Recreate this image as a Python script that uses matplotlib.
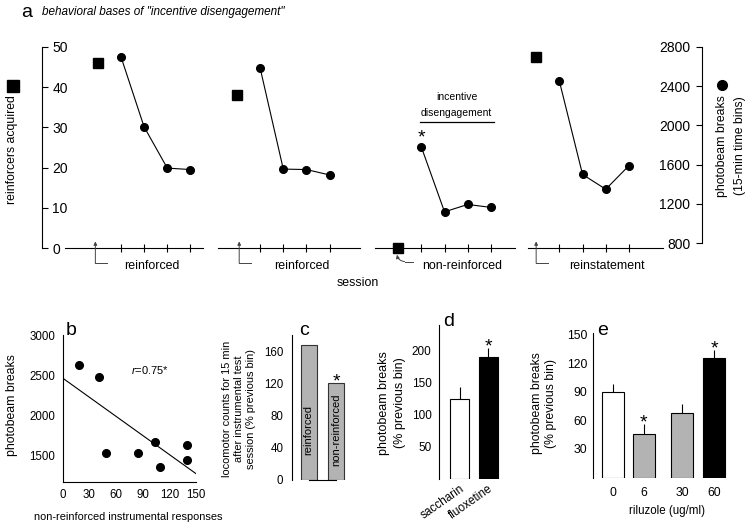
import numpy as np
import matplotlib
matplotlib.use('Agg')
import matplotlib.pyplot as plt
from matplotlib.lines import Line2D

plt.rcParams['font.family'] = ['Liberation Sans', 'DejaVu Sans']
plt.rcParams['mathtext.fontset'] = 'custom'
plt.rcParams['mathtext.it'] = 'Liberation Sans:italic'
plt.rcParams['mathtext.rm'] = 'Liberation Sans'

W, H = 751, 530

# ---------------- data ----------------
session_labels = ['reinforced', 'reinforced', 'non-reinforced', 'reinstatement']
reinforcers = [46, 38, 0, 47.4]                      # squares (left axis)
photobeam_bins = [                                   # circles (right axis)
    [2700, 1985, 1565, 1550],
    [2585, 1555, 1550, 1495],
    [1780, 1120, 1195, 1165],
    [2450, 1500, 1350, 1590],
]
scatter_x = [18.4, 41.2, 48.4, 84.4, 103.9, 109.5, 140.2, 139.5]
scatter_y = [2623, 2482, 1530, 1538, 1675, 1364, 1634, 1447]
c_labels = ['reinforced', 'non-reinforced']
c_values = [167, 120]
d_labels = ['saccharin', 'fluoxetine']
d_means = [124, 190]
d_err = [19, 14]
e_labels = ['0', '6', '30', '60']
e_means = [90, 46, 67.5, 126]
e_err = [8, 10.5, 9.5, 8.5]

# ---------------- layout ----------------
fig = plt.figure(figsize=(W / 100, H / 100), dpi=100)


def px_axes(l, t, r, b):
    return fig.add_axes([l / W, 1 - b / H, (r - l) / W, (b - t) / H])


def ftext(x, y, s, **kw):
    return fig.text(x / W, 1 - y / H, s, **kw)


# ======== panel a ========
ax = px_axes(42, 46.7, 702, 248.3)
ax.set_xlim(0, 660 / 23.2)
ax.set_ylim(0, 50)
for s in ['top', 'right', 'bottom']:
    ax.spines[s].set_visible(False)
ax.spines['left'].set_bounds(0, 50)
ax.spines['left'].set_linewidth(0.8)
ax.set_xticks([])
ax.set_yticks(np.arange(0, 51, 10))
ax.tick_params(axis='y', direction='in', length=4, width=0.8, pad=-7.5, labelsize=10)
for lab in ax.get_yticklabels():
    lab.set_horizontalalignment('left')

ax2 = ax.twinx()
ax2.set_ylim(749, 2800)
for s in ['top', 'left', 'bottom']:
    ax2.spines[s].set_visible(False)
ax2.spines['right'].set_bounds(800, 2800)
ax2.spines['right'].set_linewidth(0.8)
ax2.set_yticks(np.arange(800, 2801, 400))
ax2.tick_params(axis='y', direction='in', length=4, width=0.8, pad=-8.5, labelsize=10)
for lab in ax2.get_yticklabels():
    lab.set_horizontalalignment('right')

offsets = [2.4, 8.4, 15.35, 21.3]
seg_span = [(-1.41, 4.54), (-0.81, 5.31), (-1.0, 5.04), (-0.35, 5.47)]
label_dx = [2.33, 2.79, 2.74, 3.05]
arrow_dx = [-0.1, 0.1, None, 0.0]
acol = '#444444'

for i, o in enumerate(offsets):
    s0, s1 = seg_span[i]
    ax.plot([o + s0, o + s1], [0, 0], color='k', lw=0.8, clip_on=False)
    bx = o + np.arange(1, 5)
    ax.plot(bx, np.zeros(4), ls='none', marker='|', ms=6, mew=0.8, color='k', clip_on=False)
    ax2.plot(bx, photobeam_bins[i], '-o', color='k', ms=5.5, lw=0.8, clip_on=False)
    ax.plot(o, reinforcers[i], 's', color='k', ms=7.2, clip_on=False, zorder=5)
    ax.text(o + label_dx[i], -4.4, session_labels[i], ha='center', va='center', fontsize=8.9)
    if arrow_dx[i] is not None:
        x = o + arrow_dx[i]
        ax.annotate('', xy=(x, 1.7), xytext=(x, -3.7),
                    arrowprops=dict(arrowstyle='-|>', color=acol, lw=0.7, mutation_scale=5,
                                    shrinkA=0, shrinkB=0), annotation_clip=False)
        ax.plot([x, x + 0.5], [-3.7, -3.7], color=acol, lw=0.7, clip_on=False)
    else:
        ax.plot([o + 0.28, o + 0.66], [-3.3, -3.3], color=acol, lw=0.7, clip_on=False)
        ax.annotate('', xy=(o - 0.05, -1.6), xytext=(o + 0.28, -3.3),
                    arrowprops=dict(arrowstyle='-|>', color=acol, lw=0.7, mutation_scale=5,
                                    shrinkA=0, shrinkB=0, connectionstyle='arc3,rad=-0.35'),
                    annotation_clip=False)

# significance star & incentive disengagement annotation
ax2.annotate('*', (offsets[2] + 1, photobeam_bins[2][0]), xytext=(0, 3.2),
             textcoords='offset points', ha='center', va='baseline', fontsize=14)
ax.text(offsets[2] + 2.52, 37.45, 'incentive', ha='center', va='center', fontsize=7.5)
ax.text(offsets[2] + 2.52, 33.6, 'disengagement', ha='center', va='center', fontsize=7.5)
ax.plot([offsets[2] + 0.94, offsets[2] + 4.13], [31.4, 31.4], color='k', lw=0.9, clip_on=False)

ftext(358, 283, 'session', ha='center', va='center', fontsize=8.9)
ftext(21, 16.7, 'a', fontsize=14, va='baseline')
ftext(42, 14.5, 'behavioral bases of "incentive disengagement"', style='italic',
      fontsize=8.5, va='baseline')
ftext(12, 150, 'reinforcers acquired', rotation=90, ha='center', va='center', fontsize=8.8)
fig.add_artist(Line2D([13 / W], [1 - 86 / H], marker='s', ms=8.5, color='k',
                      transform=fig.transFigure))
ftext(722, 146, 'photobeam breaks', rotation=90, ha='center', va='center', fontsize=8.8)
ftext(740, 146, '(15-min time bins)', rotation=90, ha='center', va='center', fontsize=8.8)
fig.add_artist(Line2D([722 / W], [1 - 85 / H], marker='o', ms=7, color='k',
                      transform=fig.transFigure))

# ======== panel b ========
axb = px_axes(62.7, 335, 196, 481.7)
axb.set_xlim(0, 150)
axb.set_ylim(1178, 3000)
for s in ['top', 'right']:
    axb.spines[s].set_visible(False)
for s in ['left', 'bottom']:
    axb.spines[s].set_linewidth(0.8)
axb.set_xticks(np.arange(0, 151, 30))
axb.set_yticks([1500, 2000, 2500, 3000])
axb.tick_params(length=0, labelsize=8.3)
axb.tick_params(axis='y', pad=5.5)
axb.tick_params(axis='x', pad=5)
axb.plot(scatter_x, scatter_y, 'o', color='k', ms=5.5, clip_on=False)
coef = np.polyfit(scatter_x, scatter_y, 1)
xx = np.array([0, 150])
axb.plot(xx, np.polyval(coef, xx), color='k', lw=0.8)
axb.text(98, 2565, '$\\mathit{r}$=0.75*', ha='center', va='center', fontsize=8)
ftext(66, 335, 'b', fontsize=14, va='baseline')
ftext(12, 405, 'photobeam breaks', rotation=90, ha='center', va='center', fontsize=8.8)
ftext(128, 516.7, 'non-reinforced instrumental responses', ha='center', va='center', fontsize=7.9)

# ======== panel c ========
axc = px_axes(291.7, 335, 352, 480)
axc.set_xlim(-0.618, 1.575)
axc.set_ylim(0, 180)
for s in ['top', 'right']:
    axc.spines[s].set_visible(False)
axc.spines['left'].set_linewidth(0.8)
axc.spines['bottom'].set_linewidth(0.8)
axc.spines['bottom'].set_bounds(0, 1)
axc.bar([0, 1], c_values, width=0.58, color='#b3b3b3', edgecolor='#333333', lw=0.8)
axc.set_xticks([])
axc.set_yticks(np.arange(0, 161, 40))
axc.tick_params(length=0, labelsize=8.3, pad=6)
for i, lab in enumerate(c_labels):
    axc.text(i, 62, lab, rotation=90, ha='center', va='center', fontsize=8)
axc.annotate('*', (1, c_values[1]), xytext=(0, -2.5), textcoords='offset points',
             ha='center', va='baseline', fontsize=14)
ftext(299, 335, 'c', fontsize=14, va='baseline')
ftext(239, 409, 'locomotor counts for 15 min\nafter instrumental test\nsession (% previous bin)',
      rotation=90, ha='center', va='center', fontsize=7.9, linespacing=1.3)

# ======== panel d ========
axd = px_axes(438.5, 325, 500, 478.7)
axd.set_xlim(-0.757, 1.41)
axd.set_ylim(0, 240)
for s in ['top', 'right', 'bottom']:
    axd.spines[s].set_visible(False)
axd.spines['left'].set_linewidth(0.8)
axd.bar([0, 1], d_means, width=0.67, color=['white', 'black'], edgecolor='black', lw=0.8)
axd.vlines([0, 1], d_means, np.add(d_means, d_err), color='k', lw=0.8)
axd.set_yticks([50, 100, 150, 200])
axd.set_xticks([0, 1])
axd.set_xticklabels(d_labels, rotation=35, ha='right', rotation_mode='anchor')
axd.tick_params(length=0, labelsize=8.5)
axd.tick_params(axis='y', pad=5)
axd.tick_params(axis='x', pad=3)
axd.annotate('*', (1, d_means[1] + d_err[1]), xytext=(0, -2.5), textcoords='offset points',
             ha='center', va='baseline', fontsize=14)
ftext(443, 326, 'd', fontsize=14, va='baseline')
ftext(392, 403, 'photobeam breaks\n(% previous bin)', rotation=90, ha='center', va='center',
      fontsize=9, linespacing=1.45)

# ======== panel e ========
e_pos = [0, 1, 2.25, 3.3]
axe = px_axes(592.7, 333, 732, 477.5)
axe.set_xlim(-0.68, 3.89)
axe.set_ylim(0, 152)
for s in ['top', 'right', 'bottom']:
    axe.spines[s].set_visible(False)
axe.spines['left'].set_linewidth(0.8)
axe.bar(e_pos, e_means, width=0.72, color=['white', '#b3b3b3', '#b3b3b3', 'black'],
        edgecolor='black', lw=0.8)
axe.vlines(e_pos, e_means, np.add(e_means, e_err), color='k', lw=0.8)
axe.set_yticks([30, 60, 90, 120, 150])
axe.set_xticks(e_pos)
axe.set_xticklabels(e_labels)
axe.tick_params(length=0, labelsize=8.8)
axe.tick_params(axis='y', pad=4)
axe.tick_params(axis='x', pad=7)
for i in [1, 3]:
    axe.annotate('*', (e_pos[i], e_means[i] + e_err[i]), xytext=(0, -2.5),
                 textcoords='offset points', ha='center', va='baseline', fontsize=14)
ftext(597, 335, 'e', fontsize=14, va='baseline')
ftext(666.7, 510.7, 'riluzole (ug/ml)', ha='center', va='center', fontsize=8.3)
ftext(544, 403, 'photobeam breaks\n(% previous bin)', rotation=90, ha='center', va='center',
      fontsize=8.8, linespacing=1.3)

fig.savefig('out.png', dpi=100)
